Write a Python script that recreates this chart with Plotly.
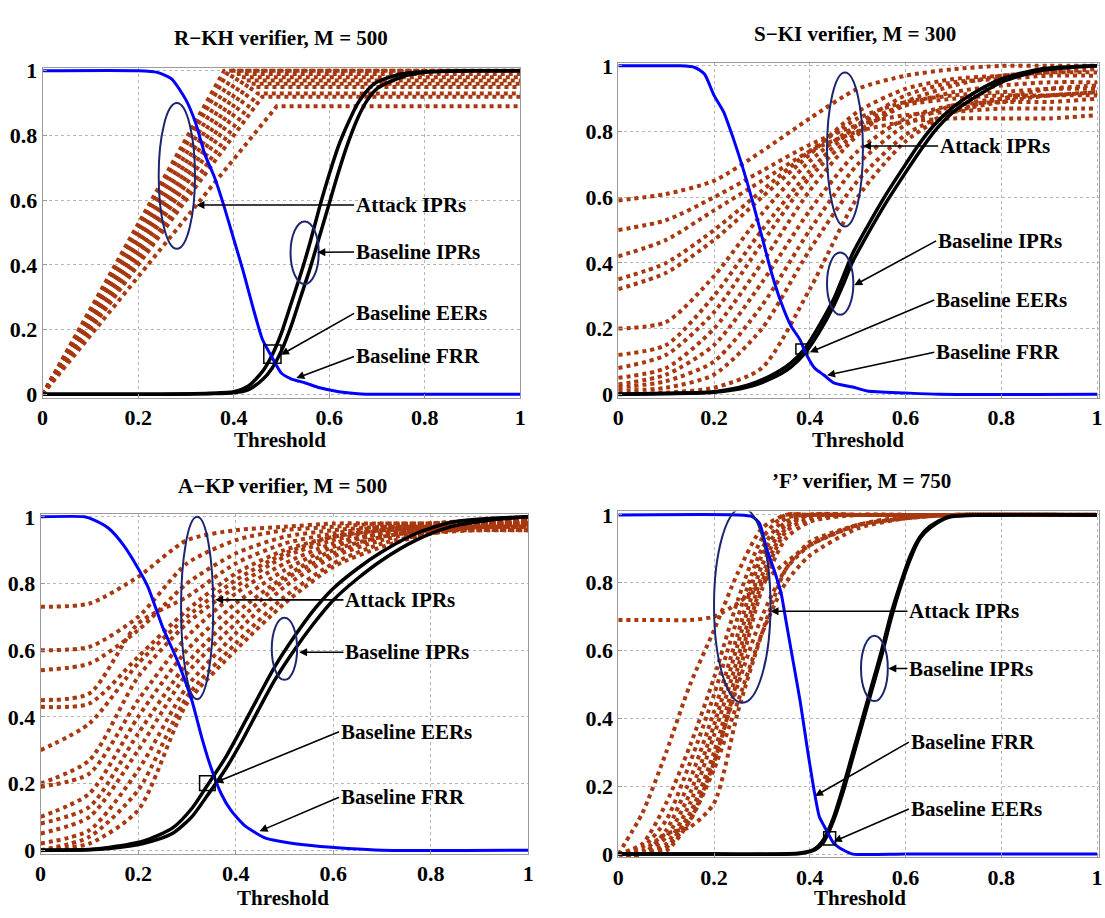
import plotly.graph_objects as go

# ---------------- R−KH verifier, M = 500 ----------------
rkh_frr_t = [0, 0.2, 0.24, 0.27, 0.3, 0.32, 0.34, 0.36, 0.38, 0.4, 0.42, 0.44, 0.46, 0.48, 0.5, 0.52, 0.55, 0.58, 0.62, 0.66, 0.7, 1.0]
rkh_frr = [1, 1, 0.995, 0.975, 0.91, 0.84, 0.74, 0.67, 0.58, 0.48, 0.38, 0.27, 0.17, 0.115, 0.065, 0.048, 0.035, 0.02, 0.008, 0.002, 0, 0]
rkh_ipr_t = [0, 0.1, 0.2, 0.3, 0.35, 0.4, 0.43, 0.46, 0.48, 0.5, 0.52, 0.54, 0.56, 0.58, 0.6, 0.62, 0.64, 0.66, 0.68, 0.7, 0.75, 0.8, 0.9, 1.0]
rkh_ipr_1 = [0, 0, 0, 0.001, 0.003, 0.008, 0.025, 0.07, 0.12, 0.19, 0.28, 0.37, 0.47, 0.58, 0.68, 0.77, 0.84, 0.9, 0.94, 0.965, 0.99, 0.997, 1, 1]
rkh_ipr_2 = [0, 0, 0, 0.001, 0.002, 0.005, 0.014, 0.045, 0.08, 0.135, 0.21, 0.3, 0.39, 0.49, 0.59, 0.69, 0.78, 0.855, 0.91, 0.945, 0.98, 0.995, 1, 1]
# attack IPRs rise linearly from the origin to a plateau
rkh_atk_knee = [0.38, 0.39, 0.40, 0.41, 0.42, 0.43, 0.44, 0.45, 0.46, 0.49]
rkh_atk_level = [1.0, 1.0, 0.99, 0.98, 0.97, 0.96, 0.95, 0.93, 0.92, 0.89]

# ---------------- S−KI verifier, M = 300 ----------------
ski_frr_t = [0, 0.13, 0.16, 0.18, 0.2, 0.22, 0.24, 0.26, 0.28, 0.3, 0.32, 0.34, 0.36, 0.38, 0.39, 0.41, 0.43, 0.45, 0.49, 0.52, 0.6, 0.67, 1.0]
ski_frr = [1, 1, 0.995, 0.975, 0.91, 0.86, 0.78, 0.69, 0.59, 0.48, 0.37, 0.28, 0.21, 0.165, 0.13, 0.08, 0.058, 0.035, 0.022, 0.01, 0.004, 0, 0]
ski_ipr_t = [0, 0.1, 0.2, 0.27, 0.32, 0.36, 0.39, 0.42, 0.45, 0.47, 0.49, 0.52, 0.56, 0.6, 0.63, 0.66, 0.7, 0.74, 0.8, 0.88, 1.0]
ski_ipr_1 = [0, 0.003, 0.008, 0.028, 0.058, 0.095, 0.14, 0.21, 0.29, 0.36, 0.43, 0.51, 0.61, 0.7, 0.765, 0.82, 0.875, 0.915, 0.96, 0.99, 1.0]
ski_ipr_2 = [0, 0.002, 0.006, 0.022, 0.048, 0.082, 0.125, 0.19, 0.27, 0.335, 0.405, 0.485, 0.585, 0.675, 0.74, 0.8, 0.86, 0.9, 0.95, 0.985, 1.0]
ski_atk_t = [0, 0.1, 0.2, 0.3, 0.4, 0.5, 0.6, 0.7, 0.8, 0.9, 1.0]
ski_atk = [
    [0.59, 0.61, 0.65, 0.74, 0.84, 0.93, 0.97, 0.99, 1.0, 1.0, 1.0],
    [0.50, 0.53, 0.60, 0.68, 0.76, 0.82, 0.85, 0.86, 0.87, 0.87, 0.87],
    [0.42, 0.47, 0.56, 0.65, 0.74, 0.80, 0.83, 0.84, 0.84, 0.84, 0.85],
    [0.35, 0.40, 0.50, 0.62, 0.74, 0.84, 0.89, 0.91, 0.92, 0.93, 0.93],
    [0.32, 0.37, 0.47, 0.60, 0.73, 0.86, 0.93, 0.96, 0.97, 0.98, 0.98],
    [0.20, 0.22, 0.36, 0.55, 0.71, 0.82, 0.88, 0.90, 0.91, 0.91, 0.92],
    [0.12, 0.15, 0.30, 0.50, 0.68, 0.82, 0.91, 0.95, 0.96, 0.97, 0.97],
    [0.08, 0.12, 0.25, 0.46, 0.66, 0.80, 0.88, 0.92, 0.94, 0.95, 0.95],
    [0.05, 0.08, 0.20, 0.40, 0.62, 0.79, 0.89, 0.94, 0.97, 0.98, 0.99],
    [0.03, 0.06, 0.15, 0.34, 0.56, 0.74, 0.84, 0.88, 0.89, 0.89, 0.90],
    [0.02, 0.04, 0.10, 0.27, 0.50, 0.70, 0.82, 0.88, 0.90, 0.91, 0.91],
    [0.01, 0.02, 0.06, 0.20, 0.44, 0.65, 0.79, 0.86, 0.89, 0.91, 0.92],
    [0.00, 0.005, 0.02, 0.08, 0.32, 0.60, 0.77, 0.86, 0.90, 0.93, 0.94],
]

# ---------------- A−KP verifier, M = 500 ----------------
akp_frr_t = [0, 0.09, 0.11, 0.14, 0.17, 0.2, 0.22, 0.25, 0.28, 0.31, 0.33, 0.35, 0.37, 0.39, 0.42, 0.46, 0.49, 0.56, 0.63, 0.7, 1.0]
akp_frr = [1, 1, 0.99, 0.965, 0.915, 0.845, 0.79, 0.67, 0.57, 0.45, 0.34, 0.245, 0.17, 0.12, 0.072, 0.037, 0.027, 0.013, 0.005, 0, 0]
akp_ipr_t = [0, 0.1, 0.14, 0.21, 0.27, 0.31, 0.34, 0.38, 0.41, 0.45, 0.48, 0.52, 0.56, 0.6, 0.65, 0.7, 0.77, 0.84, 0.92, 1.0]
akp_ipr_1 = [0, 0.002, 0.008, 0.027, 0.066, 0.125, 0.19, 0.28, 0.36, 0.47, 0.55, 0.64, 0.72, 0.785, 0.845, 0.895, 0.95, 0.983, 0.995, 1.0]
akp_ipr_2 = [0, 0.001, 0.005, 0.02, 0.05, 0.1, 0.16, 0.245, 0.32, 0.43, 0.51, 0.6, 0.68, 0.75, 0.815, 0.87, 0.93, 0.97, 0.99, 1.0]
akp_atk_t = [0, 0.1, 0.2, 0.3, 0.4, 0.5, 0.6, 0.7, 0.8, 0.9, 1.0]
akp_atk = [
    [0.73, 0.74, 0.82, 0.93, 0.96, 0.97, 0.98, 0.98, 0.98, 0.98, 0.98],
    [0.60, 0.61, 0.70, 0.86, 0.93, 0.96, 0.97, 0.98, 0.98, 0.99, 0.99],
    [0.54, 0.56, 0.66, 0.80, 0.89, 0.94, 0.96, 0.97, 0.97, 0.97, 0.97],
    [0.45, 0.47, 0.68, 0.76, 0.86, 0.92, 0.95, 0.97, 0.98, 0.98, 0.98],
    [0.43, 0.44, 0.58, 0.72, 0.83, 0.90, 0.94, 0.96, 0.96, 0.96, 0.96],
    [0.30, 0.38, 0.56, 0.70, 0.81, 0.89, 0.94, 0.96, 0.97, 0.98, 0.99],
    [0.20, 0.27, 0.52, 0.68, 0.79, 0.88, 0.93, 0.96, 0.98, 0.99, 1.00],
    [0.19, 0.23, 0.45, 0.64, 0.77, 0.86, 0.92, 0.95, 0.97, 0.98, 0.98],
    [0.10, 0.17, 0.40, 0.60, 0.74, 0.84, 0.91, 0.95, 0.96, 0.97, 0.97],
    [0.08, 0.13, 0.35, 0.56, 0.71, 0.82, 0.90, 0.94, 0.96, 0.97, 0.97],
    [0.05, 0.10, 0.30, 0.53, 0.68, 0.81, 0.89, 0.94, 0.96, 0.97, 0.98],
    [0.02, 0.06, 0.24, 0.49, 0.65, 0.79, 0.88, 0.93, 0.96, 0.97, 0.98],
    [0.00, 0.04, 0.18, 0.46, 0.62, 0.76, 0.86, 0.92, 0.95, 0.97, 0.97],
    [0.00, 0.02, 0.12, 0.44, 0.60, 0.74, 0.85, 0.91, 0.95, 0.96, 0.96],
]

# ---------------- 'F' verifier, M = 750 ----------------
f_frr_t = [0, 0.25, 0.28, 0.295, 0.31, 0.325, 0.34, 0.35, 0.365, 0.38, 0.395, 0.41, 0.42, 0.435, 0.45, 0.47, 0.49, 0.6, 0.8, 1.0]
f_frr = [1, 1, 0.995, 0.975, 0.9, 0.84, 0.77, 0.69, 0.57, 0.45, 0.31, 0.18, 0.11, 0.07, 0.032, 0.012, 0, 0, 0, 0]
f_ipr_t = [0, 0.2, 0.38, 0.41, 0.43, 0.45, 0.47, 0.49, 0.51, 0.53, 0.55, 0.57, 0.59, 0.61, 0.63, 0.65, 0.69, 0.8, 1.0]
f_ipr_1 = [0, 0, 0.003, 0.015, 0.045, 0.11, 0.2, 0.3, 0.4, 0.5, 0.6, 0.71, 0.8, 0.88, 0.935, 0.965, 0.995, 1, 1]
f_ipr_2 = [0, 0, 0.002, 0.012, 0.038, 0.1, 0.185, 0.285, 0.385, 0.485, 0.585, 0.695, 0.79, 0.87, 0.93, 0.96, 0.993, 1, 1]
f_atk_t = [0, 0.05, 0.1, 0.15, 0.2, 0.25, 0.3, 0.35, 0.4, 0.5, 0.6, 0.7, 1.0]
f_atk = [
    [0.69, 0.69, 0.69, 0.69, 0.70, 0.74, 0.80, 0.86, 0.91, 0.97, 0.995, 1.0, 1.0],
    [0.00, 0.12, 0.30, 0.50, 0.66, 0.83, 0.96, 1.0, 1.0, 1.0, 1.0, 1.0, 1.0],
    [0.00, 0.03, 0.15, 0.32, 0.52, 0.75, 0.93, 1.0, 1.0, 1.0, 1.0, 1.0, 1.0],
    [0.00, 0.02, 0.10, 0.27, 0.47, 0.70, 0.90, 0.99, 1.0, 1.0, 1.0, 1.0, 1.0],
    [0.00, 0.00, 0.07, 0.22, 0.42, 0.65, 0.88, 0.98, 1.0, 1.0, 1.0, 1.0, 1.0],
    [0.00, 0.00, 0.05, 0.18, 0.38, 0.62, 0.85, 0.97, 1.0, 1.0, 1.0, 1.0, 1.0],
    [0.00, 0.00, 0.03, 0.15, 0.35, 0.58, 0.82, 0.96, 1.0, 1.0, 1.0, 1.0, 1.0],
    [0.00, 0.00, 0.02, 0.12, 0.30, 0.55, 0.80, 0.95, 0.99, 1.0, 1.0, 1.0, 1.0],
    [0.00, 0.00, 0.01, 0.10, 0.27, 0.52, 0.78, 0.93, 0.98, 1.0, 1.0, 1.0, 1.0],
    [0.00, 0.00, 0.02, 0.10, 0.25, 0.45, 0.65, 0.80, 0.88, 0.96, 0.99, 1.0, 1.0],
    [0.00, 0.00, 0.02, 0.12, 0.28, 0.50, 0.70, 0.84, 0.91, 0.97, 0.99, 1.0, 1.0],
    [0.00, 0.01, 0.06, 0.08, 0.15, 0.42, 0.65, 0.84, 0.92, 0.97, 0.99, 1.0, 1.0],
]

titles = ["R\u2212KH verifier, M = 500", "S\u2212KI verifier, M = 300",
          "A\u2212KP verifier, M = 500", "\u2019F\u2019 verifier, M = 750"]

BROWN = "#A8380F"
BLUE = "#0000FF"
NAVY = "#1C2670"
FONT = "Liberation Serif"

fig = go.Figure()


def add_panel(n, frr_t, frr, ipr_t, ipr_1, ipr_2, attack):
    ax = "x" if n == 1 else f"x{n}"
    ay = "y" if n == 1 else f"y{n}"
    for xs, ys, shape in attack:
        fig.add_trace(go.Scatter(x=xs, y=ys, mode="lines", xaxis=ax, yaxis=ay,
                                 line=dict(color=BROWN, width=4, dash="dot", shape=shape, smoothing=0.7),
                                 hoverinfo="skip", showlegend=False))
    for ys in (ipr_1, ipr_2):
        fig.add_trace(go.Scatter(x=ipr_t, y=ys, mode="lines", xaxis=ax, yaxis=ay,
                                 line=dict(color="black", width=3.5, shape="spline", smoothing=0.7),
                                 hoverinfo="skip", showlegend=False))
    fig.add_trace(go.Scatter(x=frr_t, y=frr, mode="lines", xaxis=ax, yaxis=ay,
                             line=dict(color=BLUE, width=3, shape="spline", smoothing=0.6),
                             hoverinfo="skip", showlegend=False))


rkh_attack = [([0, k, 1.0], [0, lv, lv], "linear") for k, lv in zip(rkh_atk_knee, rkh_atk_level)]
ski_attack = [(ski_atk_t, ys, "spline") for ys in ski_atk]
akp_attack = [(akp_atk_t, ys, "spline") for ys in akp_atk]
f_attack = [(f_atk_t, ys, "spline") for ys in f_atk]

add_panel(1, rkh_frr_t, rkh_frr, rkh_ipr_t, rkh_ipr_1, rkh_ipr_2, rkh_attack)
add_panel(2, ski_frr_t, ski_frr, ski_ipr_t, ski_ipr_1, ski_ipr_2, ski_attack)
add_panel(3, akp_frr_t, akp_frr, akp_ipr_t, akp_ipr_1, akp_ipr_2, akp_attack)
add_panel(4, f_frr_t, f_frr, f_ipr_t, f_ipr_1, f_ipr_2, f_attack)

W, H = 1105, 918
# subplot frames (pixel positions of x = 0 / 1 and y = 1 / 0)
frames = {
    1: dict(x0=37, x1=520, y1=63, y0=393, xmax=1.0),
    2: dict(x0=619, x1=1103, y1=58, y0=393, xmax=1.004),
    3: dict(x0=35, x1=528, y1=518, y0=858, xmax=1.0),
    4: dict(x0=619, x1=1103, y1=516, y0=862, xmax=1.004),
}

tickfont = dict(family=FONT, size=22, color="black", weight="bold")
layout_axes = {}
for n, f in frames.items():
    sx = "" if n == 1 else str(n)
    xunit = f["x1"] - f["x0"]
    xr = f["x0"] + f["xmax"] * xunit
    yunit = f["y0"] - f["y1"]
    pad = 0.01
    top = f["y1"] - pad * yunit
    bot = f["y0"] + pad * yunit
    common = dict(showline=True, mirror=True, linecolor="#9a9a9a", linewidth=1,
                  showgrid=True, gridcolor="#b5b5b5", griddash="dot", gridwidth=1,
                  zeroline=False, ticks="inside", ticklen=4, tickcolor="#9a9a9a",
                  tickfont=tickfont, tickvals=[0, 0.2, 0.4, 0.6, 0.8, 1],
                  ticktext=["0", "0.2", "0.4", "0.6", "0.8", "1"])
    layout_axes["xaxis" + sx] = dict(domain=[f["x0"] / W, min(xr / W, 1.0)], range=[0, f["xmax"]],
                                     anchor="y" + sx, **common)
    layout_axes["yaxis" + sx] = dict(domain=[1 - bot / H, 1 - top / H], range=[-pad, 1 + pad],
                                     anchor="x" + sx, **common)

fig.update_layout(width=W, height=H, margin=dict(l=0, r=0, t=0, b=0),
                  paper_bgcolor="white", plot_bgcolor="white", **layout_axes)

# ellipses around curve groups and squares at the equal error points
ellipses = {
    1: [(0.243, 0.45, 0.319, 0.90), (0.519, 0.341, 0.578, 0.534)],
    2: [(0.436, 0.511, 0.511, 0.98), (0.436, 0.242, 0.491, 0.432)],
    3: [(0.288, 0.453, 0.354, 1.0), (0.474, 0.511, 0.526, 0.697)],
    4: [(0.20, 0.446, 0.318, 1.02), (0.507, 0.451, 0.563, 0.644)],
}
squares = {
    1: (0.463, 0.096, 0.499, 0.152),
    2: (0.371, 0.123, 0.396, 0.153),
    3: (0.326, 0.179, 0.358, 0.223),
    4: (0.429, 0.027, 0.454, 0.066),
}
for n in frames:
    ax = "x" if n == 1 else f"x{n}"
    ay = "y" if n == 1 else f"y{n}"
    for (a, b, c, d) in ellipses[n]:
        fig.add_shape(type="circle", xref=ax, yref=ay, x0=a, y0=b, x1=c, y1=d,
                      line=dict(color=NAVY, width=2))
    a, b, c, d = squares[n]
    fig.add_shape(type="rect", xref=ax, yref=ay, x0=a, y0=b, x1=c, y1=d,
                  line=dict(color="black", width=1.5))

# callouts: (text, text x, text y, arrow head x, arrow head y)
callouts = {
    1: [("Attack IPRs", 0.652, 0.585, 0.322, 0.585),
        ("Baseline IPRs", 0.652, 0.44, 0.575, 0.439),
        ("Baseline EERs", 0.652, 0.25, 0.499, 0.122),
        ("Baseline FRR", 0.652, 0.117, 0.531, 0.05)],
    2: [("Attack IPRs", 0.668, 0.756, 0.511, 0.756),
        ("Baseline IPRs", 0.664, 0.467, 0.493, 0.332),
        ("Baseline EERs", 0.66, 0.287, 0.40, 0.128),
        ("Baseline FRR", 0.66, 0.128, 0.436, 0.058)],
    3: [("Attack IPRs", 0.621, 0.751, 0.358, 0.751),
        ("Baseline IPRs", 0.621, 0.594, 0.53, 0.594),
        ("Baseline EERs", 0.612, 0.355, 0.358, 0.203),
        ("Baseline FRR", 0.612, 0.159, 0.449, 0.057)],
    4: [("Attack IPRs", 0.604, 0.716, 0.318, 0.716),
        ("Baseline IPRs", 0.604, 0.547, 0.564, 0.547),
        ("Baseline FRR", 0.607, 0.33, 0.411, 0.171),
        ("Baseline EERs", 0.607, 0.133, 0.45, 0.037)],
}
for n, items in callouts.items():
    ax = "x" if n == 1 else f"x{n}"
    ay = "y" if n == 1 else f"y{n}"
    for text, tx, ty, hx, hy in items:
        fig.add_annotation(x=hx, y=hy, xref=ax, yref=ay, ax=tx, ay=ty, axref=ax, ayref=ay,
                           text=text, showarrow=True, arrowhead=2, arrowsize=1, arrowwidth=1.6,
                           arrowcolor="black", standoff=0, xanchor="left", yanchor="middle",
                           font=dict(family=FONT, size=21, color="black", weight="bold"))

# panel titles and x-axis labels
title_pos = [(278, 30), (858, 25), (280, 487), (865, 481)]
label_pos = [(277, 440), (861, 440), (280, 907), (863, 907)]
for t, (px, py) in zip(titles, title_pos):
    fig.add_annotation(x=px / W, y=1 - py / H, xref="paper", yref="paper", text=t, showarrow=False,
                       xanchor="center", yanchor="middle",
                       font=dict(family=FONT, size=21, color="black", weight="bold"))
for px, py in label_pos:
    fig.add_annotation(x=px / W, y=1 - py / H, xref="paper", yref="paper", text="Threshold",
                       showarrow=False, xanchor="center", yanchor="middle",
                       font=dict(family=FONT, size=21, color="black", weight="bold"))

fig.write_html("out.html")
